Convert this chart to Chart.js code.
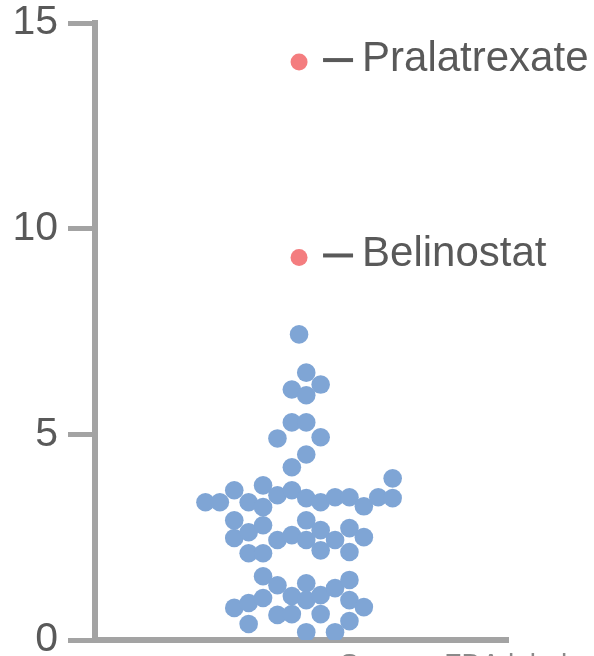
<!DOCTYPE html>
<html>
<head>
<meta charset="utf-8">
<script src="https://cdn.jsdelivr.net/npm/chart.js@4"></script>
<style>
  html, body { margin: 0; padding: 0; background: #fff; }
  #wrap { width: 594px; height: 656px; position: relative; }
</style>
</head>
<body>
<div id="wrap"><canvas id="c" width="594" height="656"></canvas></div>
<script>
// Other drug approvals: response value and beeswarm column offset
const otherValues = [
  7.43, 6.50, 6.09, 6.21, 5.95, 5.29, 5.29, 4.90, 4.93, 4.51, 4.20,
  3.93, 3.35, 3.35, 3.64, 3.35, 3.76, 3.23, 3.52, 3.64, 3.45, 3.35, 3.47, 3.47, 3.25, 3.47, 3.45,
  2.91, 2.48, 2.62, 2.79, 2.11, 2.11, 2.43, 2.55, 2.91, 2.43, 2.67, 2.18, 2.43, 2.72, 2.50, 2.14,
  1.55, 1.33, 1.07, 1.38, 0.97, 1.09, 1.26, 1.46, 0.78, 0.90, 1.02, 0.39, 0.61, 0.63, 0.63, 0.97, 0.80, 0.46, 0.19, 0.19
];
const otherOffsets = [
  0, 0.5, -0.5, 1.5, 0.5, -0.5, 0.5, -1.5, 1.5, 0.5, -0.5,
  6.5, -6.5, -5.5, -4.5, -3.5, -2.5, -2.5, -1.5, -0.5, 0.5, 1.5, 2.5, 3.5, 4.5, 5.5, 6.5,
  -4.5, -4.5, -3.5, -2.5, -3.5, -2.5, -1.5, -0.5, 0.5, 0.5, 1.5, 1.5, 2.5, 3.5, 4.5, 3.5,
  -2.5, -1.5, -0.5, 0.5, 0.5, 1.5, 2.5, 3.5, -4.5, -3.5, -2.5, -3.5, -1.5, -0.5, 1.5, 3.5, 4.5, 3.5, 0.5, 2.5
];
// Highlighted drugs
const highlightNames = ["Pralatrexate", "Belinostat"];
const highlightValues = [14.05, 9.30];
const highlightOffsets = [0, 0];
// Axis ticks
const yTicks = [0, 5, 10, 15];
const sourceText = "Source: FDA labels";

const AXIS = '#a3a3a3';
const TEXT = '#595959';
const FONT = "'Liberation Sans', Arial, sans-serif";

const otherData = otherValues.map((v, i) => ({ x: otherOffsets[i], y: v }));
const highData = highlightValues.map((v, i) => ({ x: highlightOffsets[i], y: v, name: highlightNames[i] }));

const labelPlugin = {
  id: 'labels',
  afterDatasetsDraw(chart) {
    const ctx = chart.ctx;
    const meta = chart.getDatasetMeta(1);
    ctx.save();
    meta.data.forEach((pt, i) => {
      const x = pt.x, y = pt.y;
      ctx.strokeStyle = TEXT;
      ctx.lineWidth = 4;
      ctx.beginPath();
      ctx.moveTo(x + 24, y - 2);
      ctx.lineTo(x + 54, y - 2);
      ctx.stroke();
      ctx.fillStyle = TEXT;
      ctx.font = "42px " + FONT;
      ctx.textAlign = 'left';
      ctx.textBaseline = 'middle';
      ctx.fillText(highData[i].name, x + 63, y - 3);
    });
    ctx.font = "28px " + FONT;
    ctx.fillStyle = '#8a8a8a';
    ctx.textAlign = 'left';
    ctx.textBaseline = 'alphabetic';
    ctx.fillText(sourceText, 340, 673);
    ctx.restore();
  }
};

new Chart(document.getElementById('c'), {
  type: 'scatter',
  data: {
    datasets: [
      {
        data: otherData,
        backgroundColor: '#7fa5d5',
        borderWidth: 0,
        pointRadius: 9.3,
        pointHoverRadius: 9.3
      },
      {
        data: highData,
        backgroundColor: '#f47d7f',
        borderWidth: 0,
        pointRadius: 8.5,
        pointHoverRadius: 8.5
      }
    ]
  },
  options: {
    responsive: false,
    animation: false,
    events: [],
    layout: { padding: { top: 23, right: 86, left: 0, bottom: 0 } },
    plugins: {
      legend: { display: false },
      tooltip: { enabled: false }
    },
    scales: {
      x: {
        type: 'linear',
        min: -14.17,
        max: 14.51,
        grid: { display: false, drawTicks: false },
        border: { display: true, color: AXIS, width: 6 },
        ticks: { display: false },
        afterFit(scale) { scale.height = 16; }
      },
      y: {
        min: 0,
        max: 15,
        afterBuildTicks(scale) { scale.ticks = yTicks.map(v => ({ value: v })); },
        grid: {
          drawOnChartArea: false,
          drawTicks: true,
          tickLength: 27,
          color: AXIS,
          lineWidth: 5
        },
        border: { display: true, color: AXIS, width: 6 },
        ticks: {
          padding: 10,
          color: TEXT,
          font: { family: FONT, size: 41, lineHeight: 0.25 }
        },
        afterFit(scale) { scale.width = 95; }
      }
    }
  },
  plugins: [labelPlugin]
});
</script>
</body>
</html>
